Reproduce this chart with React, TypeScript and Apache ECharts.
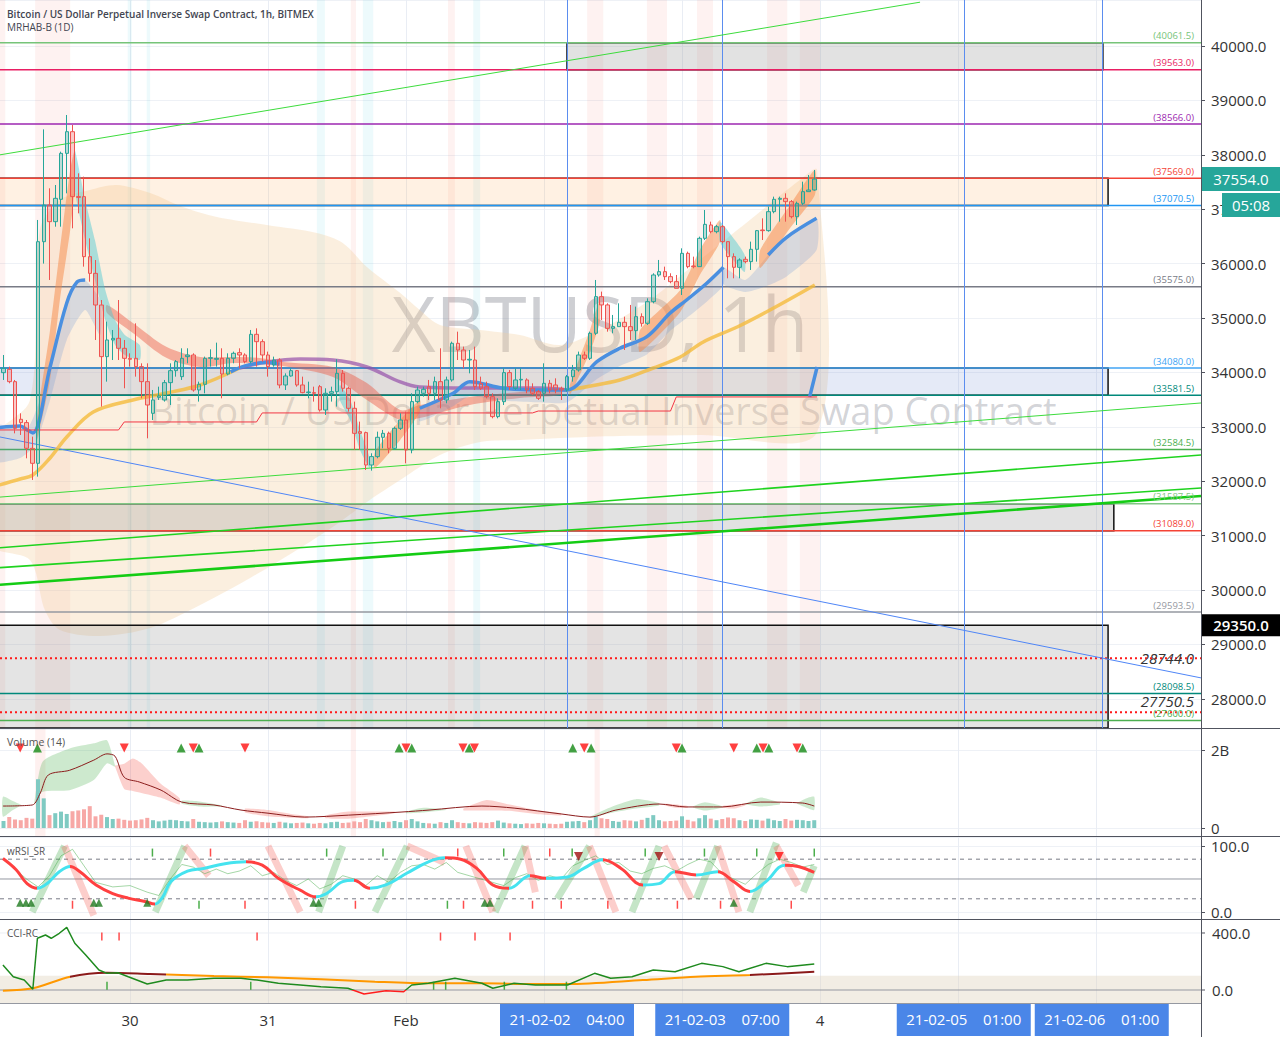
import React, { useEffect, useRef } from 'react';
import * as echarts from 'echarts';

const FONT = "'Open Sans', 'Noto Sans', sans-serif";

// x values are hours counted from 2021-01-29 00:00 (one candle = one hour)
const dayLabels = ['29', '30', '31', 'Feb', '2', '3', '4', '5', '6'];
const firstCandleHour = 2;
const X_MIN = 1.391;
const X_MAX = 210.26;

// [open, close, low, high]
const candles = [
  [33995, 34075, 33861, 34320], [34057, 33830, 33800, 34106], [33830, 32972, 32880, 33861], [33138, 33077, 32850, 33248],
  [33077, 32605, 32421, 33125], [32605, 32329, 32023, 32819], [32329, 36403, 32084, 36802], [36403, 37077, 36000, 38468],
  [37077, 36771, 35699, 37384], [36771, 37200, 36679, 37445], [37182, 38027, 36679, 38058], [38027, 38425, 37292, 38732],
  [38425, 37231, 36649, 38548], [37231, 37218, 36924, 37660], [37231, 36128, 35944, 37598], [36128, 35821, 35668, 36464],
  [35821, 35239, 34596, 36066], [35239, 34290, 33371, 35331], [34290, 34596, 33830, 34933], [34596, 34627, 34228, 34780],
  [34627, 34443, 34228, 35331], [34443, 34259, 33708, 34596], [34259, 34241, 34106, 34351], [34259, 34106, 33922, 34902],
  [34106, 33830, 33524, 34167], [33830, 33401, 32788, 34167], [33248, 33493, 33125, 33677], [33542, 33567, 33493, 33738],
  [33493, 33812, 33463, 33861], [33812, 34032, 33401, 34167], [34032, 34198, 33922, 34228], [33922, 34259, 33861, 34443],
  [34290, 34320, 34167, 34443], [34320, 33677, 33646, 34351], [33677, 33781, 33463, 33830], [33781, 34259, 33616, 34290],
  [34259, 34271, 34106, 34424], [34241, 34259, 34106, 34547], [34259, 33971, 33524, 34443], [33971, 34259, 33947, 34351],
  [34259, 34351, 34167, 34382], [34363, 34320, 34075, 34443], [34320, 34198, 34167, 34351], [34198, 34700, 34167, 34780],
  [34700, 34565, 34106, 34810], [34565, 34320, 34198, 34608], [34320, 34106, 33922, 34382], [34136, 34228, 34106, 34290],
  [34228, 33769, 33708, 34259], [33769, 33934, 33677, 33983], [33934, 34032, 33922, 34075], [34032, 33769, 33738, 34044],
  [33769, 33628, 33616, 33922], [33628, 33640, 33524, 33830], [33628, 33616, 33463, 33738], [33738, 33309, 33279, 33769],
  [33309, 33616, 33217, 33708], [33616, 33646, 33463, 33738], [33646, 33983, 33371, 34241], [33983, 33708, 33646, 34044],
  [33708, 33340, 33279, 33738], [33340, 32880, 32574, 33463], [32911, 32880, 32574, 33095], [32893, 32298, 32206, 32911],
  [32298, 32452, 32194, 32513], [32452, 32807, 32421, 32911], [32807, 32880, 32605, 32942], [32880, 32605, 32513, 32911],
  [32605, 32972, 32574, 33003], [32972, 33125, 32942, 33248], [33125, 32574, 32329, 33279], [32574, 33463, 32513, 33616],
  [33463, 33677, 33432, 33738], [33616, 33689, 33554, 33738], [33738, 33616, 33493, 33861], [33616, 33830, 33493, 33922],
  [33830, 33493, 33340, 34443], [33493, 33861, 33432, 33922], [33861, 34535, 33830, 34565], [34535, 34412, 34228, 34749],
  [34412, 34228, 34075, 34474], [34228, 34241, 33983, 34412], [34228, 33738, 33677, 34474], [33799, 33708, 33677, 33922],
  [33738, 33554, 33524, 33830], [33554, 33187, 33156, 33616], [33187, 33462, 33156, 33524], [33462, 33996, 33401, 34075],
  [33996, 33738, 33677, 34045], [33708, 33861, 33677, 34075], [33861, 33873, 33677, 34075], [33861, 33677, 33616, 33891],
  [33708, 33616, 33585, 33799], [33646, 33524, 33493, 33677], [33616, 33799, 33462, 34167], [33799, 33677, 33616, 33861],
  [33769, 33677, 33616, 33891], [33708, 33677, 33493, 33738], [33677, 33922, 33646, 33953], [33922, 34045, 33830, 34137],
  [34045, 34320, 34014, 34382], [34320, 34259, 34228, 34382], [34259, 34719, 34228, 34749], [34719, 35393, 34688, 35699],
  [35393, 35240, 34964, 35485], [35240, 34810, 34749, 35270], [34810, 34841, 34719, 35056], [34841, 34921, 34841, 35270],
  [34921, 34841, 34412, 35025], [34841, 34768, 34596, 35240], [34768, 35025, 34596, 35209], [35025, 34902, 34841, 35086],
  [34902, 35301, 34872, 35362], [35301, 35791, 35270, 35822], [35791, 35852, 35760, 36067], [35852, 35760, 35699, 35944],
  [35760, 35668, 35638, 35822], [35668, 35546, 35546, 35791], [35546, 36189, 35423, 36281], [36189, 35944, 35913, 36220],
  [35956, 35944, 35913, 36128], [35944, 36465, 35944, 36496], [36465, 36722, 36434, 36986], [36710, 36587, 36557, 36771],
  [36587, 36679, 36557, 36710], [36679, 36404, 36373, 36710], [36404, 36128, 35730, 36404], [36128, 35932, 35730, 36189],
  [35932, 36067, 35730, 36097], [36079, 36036, 36005, 36128], [36036, 36263, 35883, 36404], [36263, 36606, 36036, 36618],
  [36618, 36606, 36434, 36832], [36606, 36955, 36587, 37047], [36955, 37182, 36925, 37231], [37182, 37200, 36771, 37231],
  [37200, 37139, 36771, 37292], [37139, 36863, 36832, 37169], [36863, 37108, 36710, 37139], [37108, 37323, 37078, 37506],
  [37323, 37353, 37323, 37629], [37353, 37554, 37341, 37721],
];

// hourly volume, millions
const volumeM = [
  180, 280, 220, 200, 260, 240, 1250, 760,
  330, 380, 420, 360, 430, 450, 480, 560,
  300, 340, 280, 230, 240, 210, 190, 200,
  220, 260, 200, 170, 190, 210, 200, 180, 170, 230,
  160, 150, 140, 150, 170, 150, 140, 130, 200, 160,
  170, 150, 140, 130, 160, 140, 120, 130, 140, 120,
  110, 130, 120, 150, 160, 130, 140, 170, 150, 230,
  200, 170, 150, 160, 180, 150, 200, 230, 170, 130,
  120, 110, 150, 130, 200, 150, 130, 120, 150, 140,
  130, 150, 190, 140, 120, 110, 100, 120, 110, 130,
  120, 110, 100, 110, 160, 170, 180, 150, 200, 300,
  250, 230, 180, 160, 200, 190, 170, 210, 260, 330,
  200, 170, 180, 190, 300, 210, 170, 250, 330, 240,
  200, 230, 270, 250, 200, 180, 220, 210, 190, 240,
  200, 180, 230, 190, 210, 200, 180, 200,
];

const lastPrice = 37554.0;
const countdownText = '05:08';
const markedPrice = 29350.0;

const levelPrices = [40061.5, 39563.0, 38566.0, 37569.0, 37070.5, 35575.0, 34080.0, 33581.5, 32584.5, 31587.5, 31089.0, 29593.5, 28098.5, 27600.0];
const levelColors = ['#76c479', '#e91e63', '#9c27b0', '#f44336', '#2196f3', '#787b86', '#42a5f5', '#00897b', '#4caf50', '#81c784', '#f44336', '#9598a1', '#00897b', '#4caf50'];
const dottedLevels = [28744.0, 27750.5];

// [startHour, endHour, topPrice, bottomPrice]
const boxes = [
  [100, 193.2, 40061.5, 39563.0],
  [0, 194.1, 37569.0, 37070.5],
  [0, 194.1, 34080.0, 33581.5],
  [0, 195.1, 31587.5, 31089.0],
  [0, 194.1, 29350.0, 27463.0],
];
const boxFills = ['rgba(150,150,150,0.28)', 'rgba(255,170,80,0.16)', 'rgba(110,140,210,0.18)', 'rgba(150,150,150,0.28)', 'rgba(150,150,150,0.26)'];

// [h1, p1, h2, p2]
const trendLines = [
  [X_MIN, 38000, 161.4, 40806],
  [X_MIN, 31708, X_MAX, 33438],
  [X_MIN, 30776, X_MAX, 32483],
  [X_MIN, 30411, X_MAX, 31876],
  [X_MIN, 30095, X_MAX, 31729],
  [X_MIN, 32813, X_MAX, 28384],
];
const trendColors = ['#3ddc3d', '#3ddc3d', '#1fd31f', '#1fd31f', '#14cc14', '#4f86f7'];
const trendWidths = [1, 1, 1.6, 1.6, 2.6, 1];

const markerHours = [100, 127, 169, 193];
const markerLabels = ['21-02-02    04:00', '21-02-03    07:00', '21-02-05    01:00', '21-02-06    01:00'];

const pinkStripes = [[0, 2.3], [7.5, 13.6], [62.4, 63.3], [79.3, 80.5], [103.5, 106.3], [113.9, 117.4], [122.6, 125.4], [134.8, 138.3], [140.5, 144]];
const cyanStripes = [[23.6, 24.3], [26.9, 27.5], [56.5, 57.9], [64.5, 66.3], [83.7, 84.9]];
const volumeStripes = [[7.5, 9.3], [62.4, 63.3], [104.8, 105.7]];

const envelopeUpper = [[0, 32758], [6.6, 33493], [8.3, 36618], [11.8, 37169], [17, 37353], [21.7, 37445], [27.5, 37298], [33.2, 37040], [39.1, 36857], [47.8, 36710], [56.5, 36563], [61, 36379], [65.2, 35938], [71, 35460], [74.4, 35147], [77.9, 34872], [84.9, 34780], [91.8, 34688], [98.8, 34504], [105.7, 34780], [114.4, 35331], [123.1, 36066], [131.8, 36801], [140.5, 37537], [143.5, 37720]];
const envelopeLower = [[0, 30828], [6.6, 30552], [9.2, 29633], [11.8, 29266], [18.8, 29156], [27.5, 29302], [36.2, 29725], [44.9, 30221], [53.6, 30773], [60.5, 31251], [65.7, 31655], [71, 32023], [77.9, 32482], [84.9, 32721], [91.8, 32758], [98.8, 32795], [109.2, 32831], [123.1, 32850], [143.5, 32905]];

const salmonUpper = [[20, 35239], [24.5, 34909], [30.4, 34467], [36.2, 34283], [41.9, 34283], [46.6, 34265], [50.6, 34192], [59.3, 34100], [65.2, 33805], [71, 33309], [74.4, 33401], [83.1, 33549], [91.8, 33640], [98.8, 33677]];
const salmonLower = [[20, 35092], [24.5, 34725], [30.4, 34265], [36.2, 34100], [41.9, 34173], [46.6, 34155], [50.6, 34118], [59.3, 33916], [65.2, 33493], [71, 33125], [74.4, 33162], [83.1, 33401], [91.8, 33530], [98.8, 33585]];

const orangeRibbons = [
  [[7.8, 33125], [10.1, 34780], [11.8, 36250], [13.6, 37721], [14.4, 38087], [14.4, 37445], [13.6, 36618], [11.8, 35331], [10.1, 33861], [7.8, 32758]],
  [[66.6, 32538], [71, 33125], [74.4, 33493], [74.4, 33272], [71, 32758], [66.6, 32243]],
  [[100.5, 33769], [104, 34780], [105.7, 35331], [105.7, 34927], [104, 34376], [100.5, 33585]],
  [[112.7, 34780], [119.7, 35515], [123.1, 36250], [126.6, 36801], [126.6, 36397], [123.1, 35791], [119.7, 35111], [112.7, 34376]],
  [[133.6, 36250], [138.8, 37077], [143.1, 37721], [143.1, 37261], [138.8, 36654], [133.6, 35919]],
];
const cyanRibbons = [
  [[14.4, 38087], [16.2, 37169], [17.9, 36434], [19.7, 35515], [21.4, 34964], [23.1, 34688], [25.7, 34504], [25.7, 34229], [23.1, 34320], [21.4, 34504], [19.7, 34964], [17.9, 35699], [16.2, 36434], [14.4, 37353]],
  [[60.5, 33769], [62.3, 33493], [64, 32942], [65.7, 32427], [65.7, 32243], [64, 32574], [62.3, 33125], [60.5, 33493]],
  [[126.6, 36765], [129.2, 36434], [130.9, 36158], [130.9, 35846], [129.2, 36029], [126.6, 36397]],
];
const blueBands = [
  [[0, 33034], [6.1, 32979], [8.3, 33493], [10.1, 34100], [13, 35276], [14.8, 35662], [16.2, 35699], [18.8, 35331], [18.8, 34688], [16.2, 35147], [13, 34596], [10.1, 33493], [7.5, 32666], [4.9, 32427], [0, 32354]],
  [[74.4, 33341], [80.2, 33616], [83.1, 33830], [88.9, 33708], [94.7, 33677], [100, 33677], [105.2, 34197], [109.2, 34444], [113.9, 34657], [117.9, 35087], [120.8, 35331], [124.3, 35638], [127.2, 35932],
   [127.2, 35600], [124.3, 35300], [120.8, 35000], [117.9, 34760], [113.9, 34330], [109.2, 34120], [105.2, 33880], [100, 33450], [94.7, 33450], [88.9, 33480], [83.1, 33560], [80.2, 33380], [74.4, 33100]],
  [[127.2, 35932], [131, 35700], [135, 36159], [138.2, 36484], [143.4, 36833], [143.4, 36250], [138.2, 35765], [135, 35600], [131, 35480], [127.2, 35620]],
];

const blueLines = [
  [[0.7, 32979], [4.9, 33016], [6.1, 32942], [7.1, 32887], [10.1, 34100], [13, 35276], [14.8, 35662], [16.2, 35699]],
  [[41.5, 34010], [44, 34120], [47.8, 34180], [50, 34150]],
  [[74.4, 33341], [80.2, 33616], [83.1, 33830], [88.9, 33708], [94.7, 33677], [100, 33677], [105.2, 34197], [109.2, 34444], [113.9, 34657], [117.9, 35087], [120.8, 35331], [124.3, 35638], [127.2, 35932]],
  [[135, 36159], [138.2, 36484], [143.4, 36833]],
  [[142.2, 33549], [143.5, 34100]],
];
const yellowLines = [
  [[0, 31894], [4.9, 32041], [7.1, 32115], [10.1, 32427], [13, 32813], [17.6, 33272], [24.5, 33493], [30.4, 33622], [36.2, 33769], [43.1, 34081]],
  [[100, 33677], [109.2, 33861], [115, 34081], [119.7, 34283], [123.7, 34559], [129.6, 34835], [135.3, 35147], [143.1, 35607]],
];
const purpleLine = [[43.1, 34081], [47.8, 34192], [53.6, 34247], [59.3, 34228], [65.2, 34100], [71, 33824], [74.4, 33732], [84.9, 33713], [95.3, 33713], [100, 33677]];
const redStep = [[0, 32942], [22, 32942], [23, 33089], [46, 33089], [47, 33255], [94, 33255], [95, 33290], [118, 33290], [119, 33549], [143.5, 33549]];

// volume pane (millions)
const volumeAverageM = [[1.9, 563], [7, 590], [8.4, 900], [9.8, 1360], [13.5, 1480], [17.7, 1740], [20, 1900], [21.4, 1840], [23, 1300], [25.6, 1180], [29.4, 970], [33, 665], [38.6, 590], [43.3, 460], [48, 380], [54.4, 280], [62, 330], [71.3, 410], [76, 460], [85.2, 563], [90.8, 510], [99, 360], [104, 280], [108.5, 460], [116, 615], [120.7, 540], [127, 540], [133.7, 665], [141, 640], [143, 563]];
// [hour, lower, upper]
const volumeGreenBands = [
  [[1.9, 290, 800], [3.5, 450, 700], [5, 580, 600]],
  [[7.3, 600, 620], [8.8, 930, 1700], [13.5, 970, 2040], [17.7, 1230, 2170], [20, 1660, 2250], [21.4, 1570, 1600]],
  [[33, 620, 700], [36, 550, 680], [40, 560, 580]],
  [[72, 380, 420], [75, 400, 520], [79, 460, 480]],
  [[104, 270, 290], [108, 400, 560], [112, 500, 740], [116, 580, 640]],
  [[122, 520, 560], [124, 450, 660], [127, 520, 560]],
  [[131, 600, 620], [133.7, 550, 780], [137, 600, 650]],
  [[140, 620, 640], [142, 500, 780], [143, 460, 800]],
];
const volumePinkBands = [
  [[21.4, 1570, 1600], [23, 1000, 1650], [24.5, 950, 1780], [26, 900, 1660], [29.3, 780, 1140], [32.6, 600, 770]],
  [[44, 400, 500], [48, 300, 460], [52, 260, 360], [55, 250, 300]],
  [[58, 250, 320], [62, 240, 420], [66, 300, 420], [70, 380, 420]],
  [[82, 450, 500], [86, 450, 720], [90, 440, 600], [95, 350, 450], [99, 320, 380]],
  [[117, 580, 620], [119, 520, 600], [121, 520, 560]],
  [[127, 520, 560], [129, 500, 600], [131, 580, 620]],
];
const volumeUpSignals = [7.9, 32.9, 36, 70.8, 73, 83, 101, 104.2, 120, 133, 135.1, 141];
const volumeDownSignals = [4.9, 23, 35, 44, 72, 81.9, 83.9, 103, 119, 129, 134.1, 140];

// wRSI_SR pane
const rsiMain = [[1.9, 81], [4.2, 64], [6.1, 43], [7.9, 36], [9.7, 44], [11.7, 61], [13.6, 69], [15.3, 61], [18.1, 41], [21, 28], [23.7, 21], [26.6, 16], [28.3, 12], [29.7, 23], [31.1, 46], [34, 62], [36.8, 66], [40.5, 73], [44.2, 76], [47, 71], [49.8, 51], [53.6, 33], [56.3, 23], [58.2, 28], [61, 46], [62.9, 48], [65.7, 36], [68.5, 41], [72.2, 59], [75.9, 76], [78.7, 82], [81.5, 80], [84.3, 66], [87.1, 41], [89.9, 36], [93.6, 55], [96.3, 51], [100.1, 53], [102.9, 66], [106.2, 79], [109.4, 66], [113.2, 41], [116, 43], [118.8, 61], [122.5, 56], [126.2, 61], [129, 46], [131.8, 31], [134.6, 46], [137.9, 71], [140.2, 69], [143, 60]];
const rsiThin = [[2, 80], [6, 50], [8, 38], [10, 55], [12, 85], [14, 95], [16, 70], [18, 45], [21, 38], [24, 40], [27, 30], [29, 25], [31, 50], [33, 72], [35, 68], [37, 58], [39, 65], [41, 58], [43, 62], [45, 70], [47, 55], [49, 60], [51, 48], [53, 40], [55, 50], [57, 35], [59, 42], [61, 55], [63, 50], [65, 40], [67, 55], [69, 45], [71, 60], [73, 70], [75, 72], [77, 65], [79, 75], [81, 60], [83, 55], [85, 50], [87, 45], [89, 40], [91, 52], [93, 58], [95, 48], [97, 55], [99, 50], [101, 70], [103, 78], [105, 85], [107, 72], [109, 75], [111, 62], [113, 58], [115, 66], [117, 70], [119, 62], [121, 72], [123, 80], [125, 76], [127, 58], [129, 50], [131, 42], [133, 58], [135, 72], [137, 80], [139, 75], [141, 68], [143, 72]];
const rsiUpRibbons = [[[7, 0], [12.6, 100]], [[28.4, 0], [33.5, 100]], [[56.8, 0], [61, 100]], [[66.6, 0], [72.2, 100]], [[87.5, 0], [92.7, 100]], [[98.3, 20], [103.9, 100]], [[111.3, 0], [116, 100]], [[122.5, 20], [126.2, 100]], [[131.8, 0], [136.4, 105]], [[141.1, 30], [143, 70]]];
const rsiDownRibbons = [[[12.6, 100], [17.7, -5]], [[33.5, 100], [37.7, 55]], [[48, 100], [53.6, 0]], [[72.2, 100], [78.7, 75]], [[82.4, 100], [87.1, 0]], [[92.7, 100], [94.5, 30]], [[103.9, 100], [108.5, 0]], [[116.9, 100], [121.6, 20]], [[126.2, 100], [129.9, 0]], [[136.4, 100], [140.2, 40]]];
const rsiBuyTriangles = [4.9, 5.9, 6.8, 17.7, 18.6, 27, 55.9, 56.8, 85.7, 86.6, 129];
const rsiSellDark = [102, 116];
const rsiSellBright = [136.9];
const rsiTopGreenTicks = [27.9, 58.2, 68, 89, 100.9, 113.6, 123.9, 133, 143];
const rsiTopRedTicks = [38, 81, 97];
const rsiBottomRedTicks = [14, 44, 63.2, 82, 94, 99, 107.1, 119.2, 126.7, 139];
const rsiBottomGreenTicks = [36, 79.2];
const rsiLevels = [80, 50, 20];

// CCI-RC pane
const cci = [[1.9, 175], [3.7, 93], [5.6, 70], [7.1, 5], [7.9, 363], [9.3, 386], [10.3, 363], [11.7, 398], [13, 440], [14.4, 328], [16.3, 246], [18.6, 140], [20, 117], [21.9, 121], [23.7, 93], [27, 42], [30.3, 70], [34, 70], [38.6, 82], [43.3, 82], [46.1, 70], [49.8, 47], [53.6, 35], [57.2, 23], [61.9, 12], [64.7, -28], [68.5, -5], [71.6, -12], [73, 35], [75.9, 47], [80.5, 82], [85.2, 47], [87.1, 12], [90.8, 47], [94.5, 35], [100.1, 35], [104.8, 117], [107.6, 82], [111.3, 93], [115, 140], [118.8, 128], [123.4, 187], [127.1, 164], [129.9, 128], [134.6, 187], [138.3, 164], [143, 182]];
const cciAverage = [[1.9, -5], [7.1, 12], [13.6, 93], [20, 121], [27.5, 112], [38.6, 98], [48, 89], [57.2, 75], [66.6, 58], [75.9, 47], [85.2, 47], [94.5, 42], [100.1, 42], [113.2, 70], [122.4, 93], [131.8, 105], [143, 128]];
const cciDarkRanges = [[13.6, 30.3], [131.8, 144]];
const cciTopRedTicks = [19.1, 22.1, 46.1, 78, 84, 90.1];
const cciGreenTicks = [20, 45, 76.8, 78.9, 89.1, 99.9];
const cciBand = [-100, 100];
const cciAxisValues = [400, 0];

// layout
const GRIDS = [
  { left: 0, top: 0, width: 1201, height: 728 },
  { left: 0, top: 729, width: 1201, height: 107 },
  { left: 0, top: 837, width: 1201, height: 82 },
  { left: 0, top: 920, width: 1201, height: 83 },
];
const PLOT_RIGHT = 1201;

function buildOption() {
  const series: any[] = [];
  const add = (s: any) => { series.push({ silent: true, animation: false, ...s }); return series.length - 1; };

  const line = (pts: any[], color: string | undefined, width: number, gi: number, extra: any = {}) => ({
    type: 'line', xAxisIndex: gi, yAxisIndex: gi, data: pts, symbol: 'none', showSymbol: false,
    smooth: 0.35, lineStyle: color ? { color, width } : { width }, z: 3, ...extra,
  });
  const withBreaks = (segs: number[][][]) => {
    const out: any[] = [];
    segs.forEach((s, i) => { if (i) out.push([s[0][0], '-']); s.forEach((p) => out.push(p)); });
    return out;
  };
  const ticks = (hours: number[], value: number, color: string, gi: number) => ({
    type: 'scatter', xAxisIndex: gi, yAxisIndex: gi, symbol: 'rect', symbolSize: [1.5, 8],
    itemStyle: { color }, data: hours.map((h) => [h, value]), z: 6,
  });
  const tri = (hours: number[], value: number, color: string, gi: number, down: boolean, size = 9) => ({
    type: 'scatter', xAxisIndex: gi, yAxisIndex: gi, symbol: 'triangle', symbolSize: size,
    symbolRotate: down ? 180 : 0, itemStyle: { color }, data: hours.map((h) => [h, value]), z: 6,
  });

  // main pane
  yellowLines.forEach((l) => add(line(l, 'rgba(245,188,60,0.8)', 3.5, 0)));
  add(line(purpleLine, 'rgba(150,80,170,0.7)', 3.5, 0));
  blueLines.forEach((l) => add(line(l, '#4a8fe0', 3.5, 0)));
  add(line(redStep, '#f23645', 1, 0, { smooth: false }));
  add({
    type: 'candlestick', xAxisIndex: 0, yAxisIndex: 0, z: 5, barWidth: 4,
    data: candles.map((c, i) => [firstCandleHour + i, c[0], c[1], c[2], c[3]]),
    itemStyle: { color: 'rgba(38,166,154,0.3)', color0: 'rgba(239,83,80,0.3)', borderColor: '#26a69a', borderColor0: '#ef5350', borderWidth: 1 },
  });

  // volume pane
  add({
    type: 'bar', xAxisIndex: 1, yAxisIndex: 1, barWidth: 4, z: 3,
    data: volumeM.map((v, i) => ({
      value: [firstCandleHour + i, v * 1e6],
      itemStyle: { color: candles[i][1] >= candles[i][0] ? '#7fcac2' : '#f7a8a6' },
    })),
  });
  add(line(volumeAverageM.map((p) => [p[0], p[1] * 1e6]), '#8b1c1c', 1, 1, { smooth: 0.3, z: 4 }));
  add(tri(volumeUpSignals, 2.05e9, '#158a15', 1, false));
  add(tri(volumeDownSignals, 2.05e9, '#ff1010', 1, true));

  // RSI pane
  add(line(withBreaks(rsiUpRibbons), 'rgba(76,175,80,0.32)', 7, 2, { smooth: false, z: 2 }));
  add(line(withBreaks(rsiDownRibbons), 'rgba(244,67,54,0.26)', 7, 2, { smooth: false, z: 2 }));
  add(line(rsiThin, 'rgba(76,175,80,0.5)', 1, 2, { smooth: false, z: 3 }));
  const rsiIdx = add(line(rsiMain, undefined, 3, 2, { smooth: 0.4, z: 4 }));
  add(tri(rsiBuyTriangles, 14, '#1f7a1f', 2, false, 8));
  add(tri(rsiSellDark, 84, '#a01010', 2, true, 9));
  add(tri(rsiSellBright, 84, '#ff1010', 2, true, 9));
  add(ticks(rsiTopGreenTicks, 90, '#1f9a1f', 2));
  add(ticks(rsiTopRedTicks, 90, '#ff2020', 2));
  add(ticks(rsiBottomRedTicks, 11, '#ff2020', 2));
  add(ticks(rsiBottomGreenTicks, 11, '#1f9a1f', 2));

  // CCI pane
  const cciAvgIdx = add(line(cciAverage, undefined, 2, 3, { smooth: 0.3, z: 3 }));
  const cciIdx = add(line(cci, undefined, 1.5, 3, { smooth: false, z: 4 }));
  add(ticks(cciTopRedTicks, 375, '#ff2020', 3));
  add(ticks(cciGreenTicks, 30, '#1f9a1f', 3));

  const rsiPieces = rsiMain.slice(0, -1).map((p, i) => ({
    gte: p[0], lt: rsiMain[i + 1][0] + (i === rsiMain.length - 2 ? 1 : 0),
    color: rsiMain[i + 1][1] >= p[1] ? '#45e3ef' : '#ff4040',
  }));
  const darkPieces: any[] = [];
  let prev = -10;
  cciDarkRanges.forEach((r) => {
    darkPieces.push({ gte: prev, lt: r[0], color: '#ff9800' });
    darkPieces.push({ gte: r[0], lt: r[1], color: '#8b1a1a' });
    prev = r[1];
  });

  const axisText = { color: '#333', fontSize: 15, fontFamily: FONT };
  const yBase = {
    type: 'value', position: 'right',
    axisLine: { show: true, lineStyle: { color: '#50535e' } },
    axisTick: { show: true, length: 4, lineStyle: { color: '#50535e' } },
    splitLine: { show: true, lineStyle: { color: '#eef1f6' } },
  };

  return {
    animation: false,
    backgroundColor: '#ffffff',
    textStyle: { fontFamily: FONT },
    grid: GRIDS,
    xAxis: [0, 1, 2, 3].map((i) => ({
      type: 'value', gridIndex: i, min: X_MIN, max: X_MAX,
      axisLine: { show: false }, axisTick: { show: false }, axisLabel: { show: false }, splitLine: { show: false },
    })),
    yAxis: [
      { ...yBase, gridIndex: 0, min: 27463, max: 40846, splitNumber: 13,
        axisLabel: { ...axisText, margin: 10, showMinLabel: false, showMaxLabel: false, formatter: (v: number) => v.toFixed(1) } },
      { ...yBase, gridIndex: 1, min: -205e6, max: 2.538e9, splitNumber: 1.3,
        axisLabel: { ...axisText, margin: 10, showMinLabel: false, showMaxLabel: false, formatter: (v: number) => (Math.abs(v) < 1 ? '0' : `${Math.round(v / 1e9)}B`) } },
      { ...yBase, gridIndex: 2, min: -10.6, max: 113.6, splitNumber: 1,
        axisLabel: { ...axisText, margin: 10, showMinLabel: false, showMaxLabel: false, formatter: (v: number) => v.toFixed(1) } },
      { ...yBase, gridIndex: 3, min: -91.2, max: 491.2, axisLabel: { show: false }, axisTick: { show: false }, splitLine: { show: false } },
    ],
    visualMap: [
      { type: 'piecewise', show: false, seriesIndex: rsiIdx, dimension: 0, pieces: rsiPieces, outOfRange: { color: '#ff4040' } },
      { type: 'piecewise', show: false, seriesIndex: cciIdx, dimension: 1, pieces: [{ gte: -1000, lt: 0, color: '#ff1e1e' }, { gte: 0, lte: 1000, color: '#1e8a1e' }], outOfRange: { color: '#1e8a1e' } },
      { type: 'piecewise', show: false, seriesIndex: cciAvgIdx, dimension: 0, pieces: [...darkPieces, { gte: prev, lte: 1000, color: '#ff9800' }], outOfRange: { color: '#ff9800' } },
    ],
    series,
  };
}

function txt(x: number, y: number, text: string, font: string, fill: string, align = 'left', z = 100) {
  return {
    type: 'text', x, y, z, silent: true,
    style: { text, font, fill, align, verticalAlign: 'middle', textAlign: align, textVerticalAlign: 'middle' },
  };
}

function buildGraphic(chart: any) {
  const els: any[] = [];
  const px = (gi: number, p: number[]) => chart.convertToPixel({ gridIndex: gi }, p);
  const xPx = (gi: number, h: number) => chart.convertToPixel({ xAxisIndex: gi }, h);
  const yPx = (gi: number, v: number) => chart.convertToPixel({ yAxisIndex: gi }, v);
  const ok = (p: any) => p && isFinite(p[0]) && isFinite(p[1]);
  const polygon = (pts: number[][], fill: string, gi: number, z: number, smooth = 0.15) => {
    const points = pts.map((p) => px(gi, p));
    if (!points.every(ok)) return;
    els.push({ type: 'polygon', z, silent: true, shape: { points, smooth }, style: { fill } });
  };
  const hline = (gi: number, v: number, stroke: string, lineWidth: number, z: number, lineDash?: number[], x2 = PLOT_RIGHT) => {
    const y = yPx(gi, v);
    if (!isFinite(y)) return y;
    els.push({ type: 'line', z, silent: true, shape: { x1: 0, y1: y, x2, y2: y }, style: { stroke, lineWidth, lineDash } });
    return y;
  };
  const rowsToPoly = (rows: number[][], scale: number) => [
    ...rows.map((r) => [r[0], r[2] * scale]),
    ...rows.slice().reverse().map((r) => [r[0], r[1] * scale]),
  ];
  const stripes = (gi: number, list: number[][], fill: string) => {
    const g = GRIDS[gi];
    list.forEach((s) => {
      const a = Math.max(0, xPx(gi, s[0]));
      const b = Math.min(PLOT_RIGHT, xPx(gi, s[1]));
      els.push({ type: 'rect', z: 0, silent: true, shape: { x: a, y: g.top, width: b - a, height: g.height }, style: { fill } });
    });
  };

  // day grid lines and day labels
  const markerXs = markerHours.map((h) => xPx(3, h));
  dayLabels.forEach((label, k) => {
    const x = xPx(0, k * 24);
    if (!(x > 0 && x < PLOT_RIGHT)) return;
    const xr = Math.round(x) + 0.5;
    GRIDS.forEach((g) => els.push({ type: 'line', z: 0, silent: true, shape: { x1: xr, y1: g.top, x2: xr, y2: g.top + g.height }, style: { stroke: '#e9edf4', lineWidth: 1 } }));
    const covered = markerXs.some((m) => Math.abs(m - x) < 80);
    if (!covered) els.push(txt(x, 1020, label, `15px ${FONT}`, '#333', 'center', 10));
  });

  // watermark
  els.push(txt(600, 322, 'XBTUSD, 1h', `76px ${FONT}`, 'rgba(120,123,134,0.36)', 'center', 0));
  els.push(txt(603, 410, 'Bitcoin / US Dollar Perpetual Inverse Swap Contract', `38px ${FONT}`, 'rgba(120,123,134,0.32)', 'center', 0));

  // background highlight stripes
  stripes(0, pinkStripes, 'rgba(244,67,54,0.07)');
  stripes(0, cyanStripes, 'rgba(0,188,212,0.07)');
  stripes(1, volumeStripes, 'rgba(244,67,54,0.08)');

  // envelope
  polygon([...envelopeUpper, ...envelopeLower.slice().reverse()], 'rgba(242,205,155,0.32)', 0, 1, 0.3);

  // zones (boxes)
  boxes.forEach((b, i) => {
    const p1 = px(0, [b[0], b[2]]);
    const p2 = px(0, [b[1], b[3]]);
    if (!ok(p1) || !ok(p2)) return;
    els.push({ type: 'rect', z: 1, silent: true, shape: { x: p1[0], y: p1[1], width: p2[0] - p1[0], height: p2[1] - p1[1] }, style: { fill: boxFills[i], stroke: '#111', lineWidth: 1.5 } });
  });

  // horizontal levels with their labels
  levelPrices.forEach((p, i) => {
    const y = hline(0, p, levelColors[i], 1.5, 2);
    els.push(txt(1194, y - 7, `(${p.toFixed(1)})`, `9.5px ${FONT}`, levelColors[i], 'right', 3));
  });
  const yd0 = hline(0, dottedLevels[0], '#ff1a1a', 2, 2, [2, 3]);
  els.push(txt(1194, yd0, dottedLevels[0].toFixed(1), `italic 15px ${FONT}`, '#333', 'right', 6));
  const yd1 = hline(0, dottedLevels[1], '#ff1a1a', 2, 2, [2, 3]);
  els.push(txt(1194, yd1 - 11, dottedLevels[1].toFixed(1), `italic 15px ${FONT}`, '#333', 'right', 6));

  // vertical markers
  markerHours.forEach((h) => {
    const x = Math.round(xPx(0, h)) + 0.5;
    els.push({ type: 'line', z: 2, silent: true, shape: { x1: x, y1: 0, x2: x, y2: GRIDS[0].height }, style: { stroke: '#5b8def', lineWidth: 1 } });
  });

  // trend lines
  trendLines.forEach((l, i) => {
    const a = px(0, [l[0], l[1]]);
    const b = px(0, [l[2], l[3]]);
    if (!ok(a) || !ok(b)) return;
    els.push({ type: 'line', z: 2, silent: true, shape: { x1: a[0], y1: a[1], x2: b[0], y2: b[1] }, style: { stroke: trendColors[i], lineWidth: trendWidths[i] } });
  });

  // ribbons
  polygon([...salmonUpper, ...salmonLower.slice().reverse()], 'rgba(236,90,70,0.45)', 0, 2, 0.3);
  blueBands.forEach((b) => polygon(b, 'rgba(90,140,215,0.22)', 0, 2, 0.2));
  orangeRibbons.forEach((r) => polygon(r, 'rgba(245,135,70,0.5)', 0, 2, 0.2));
  cyanRibbons.forEach((r) => polygon(r, 'rgba(70,200,210,0.45)', 0, 2, 0.2));
  volumeGreenBands.forEach((b) => polygon(rowsToPoly(b, 1e6), 'rgba(76,175,80,0.28)', 1, 1, 0.2));
  volumePinkBands.forEach((b) => polygon(rowsToPoly(b, 1e6), 'rgba(244,67,54,0.25)', 1, 1, 0.2));

  // RSI levels
  rsiLevels.forEach((v) => hline(2, v, v === 50 ? '#9598a1' : '#787b86', 1, 1, v === 50 ? undefined : [4, 4]));

  // CCI band and axis values
  const yb1 = yPx(3, cciBand[1]);
  const yb0 = Math.min(yPx(3, cciBand[0]), GRIDS[3].top + GRIDS[3].height);
  els.push({ type: 'rect', z: 1, silent: true, shape: { x: 0, y: yb1, width: PLOT_RIGHT, height: yb0 - yb1 }, style: { fill: 'rgba(225,212,190,0.42)' } });
  cciAxisValues.forEach((v) => {
    const y = hline(3, v, v === 0 ? '#9598a1' : '#eceff4', 1, 1);
    els.push({ type: 'line', z: 3, silent: true, shape: { x1: PLOT_RIGHT, y1: y, x2: PLOT_RIGHT + 4, y2: y }, style: { stroke: '#50535e', lineWidth: 1 } });
    els.push(txt(PLOT_RIGHT + 11, y, v.toFixed(1), `15px ${FONT}`, '#333', 'left', 3));
  });

  // titles
  els.push(txt(7, 14, 'Bitcoin / US Dollar Perpetual Inverse Swap Contract, 1h, BITMEX', `600 10px ${FONT}`, '#434651'));
  els.push(txt(7, 27, 'MRHAB-B (1D)', `10px ${FONT}`, '#434651'));
  els.push(txt(7, 742, 'Volume (14)', `10.5px ${FONT}`, '#555'));
  els.push(txt(7, 851, 'wRSI_SR', `10px ${FONT}`, '#555'));
  els.push(txt(7, 933, 'CCI-RC', `10px ${FONT}`, '#555'));
  // pane separators
  [728.5, 836.5, 919.5].forEach((y) => els.push({ type: 'line', z: 90, silent: true, shape: { x1: 0, y1: y, x2: 1280, y2: y }, style: { stroke: '#50535e', lineWidth: 1 } }));
  els.push({ type: 'line', z: 90, silent: true, shape: { x1: 0, y1: 1003.5, x2: PLOT_RIGHT, y2: 1003.5 }, style: { stroke: '#9598a1', lineWidth: 1 } });
  els.push({ type: 'line', z: 90, silent: true, shape: { x1: PLOT_RIGHT + 0.5, y1: 1003, x2: PLOT_RIGHT + 0.5, y2: 1037 }, style: { stroke: '#50535e', lineWidth: 1 } });

  // price tags
  const yLast = yPx(0, lastPrice);
  els.push({ type: 'rect', z: 100, silent: true, shape: { x: 1202, y: yLast - 12, width: 78, height: 24 }, style: { fill: '#26a69a' } });
  els.push(txt(1241, yLast, lastPrice.toFixed(1), `15px ${FONT}`, '#ffffff', 'center', 101));
  els.push({ type: 'rect', z: 100, silent: true, shape: { x: 1222, y: yLast + 14, width: 58, height: 24 }, style: { fill: '#26a69a' } });
  els.push(txt(1251, yLast + 26, countdownText, `15px ${FONT}`, '#ffffff', 'center', 101));
  const yMark = yPx(0, markedPrice);
  els.push({ type: 'rect', z: 100, silent: true, shape: { x: 1202, y: yMark - 11, width: 78, height: 22 }, style: { fill: '#000000' } });
  els.push(txt(1241, yMark, markedPrice.toFixed(1), `600 15px ${FONT}`, '#ffffff', 'center', 101));

  // highlighted time labels
  markerHours.forEach((h, i) => {
    const x = xPx(3, h);
    els.push({ type: 'rect', z: 100, silent: true, shape: { x: x - 67, y: 1004, width: 134, height: 32 }, style: { fill: '#4a86e8' } });
    els.push(txt(x, 1019, markerLabels[i], `15px ${FONT}`, '#ffffff', 'center', 101));
  });
  return els;
}

export default function App() {
  const ref = useRef<HTMLDivElement>(null);
  useEffect(() => {
    document.body.style.margin = '0';
    const chart = echarts.init(ref.current as HTMLDivElement, null, { renderer: 'svg' });
    chart.setOption(buildOption() as any);
    try {
      chart.setOption({ graphic: buildGraphic(chart) } as any);
    } catch (e) {
      console.error(e);
    }
    return () => chart.dispose();
  }, []);
  return <div ref={ref} style={{ width: 1280, height: 1037 }} />;
}
